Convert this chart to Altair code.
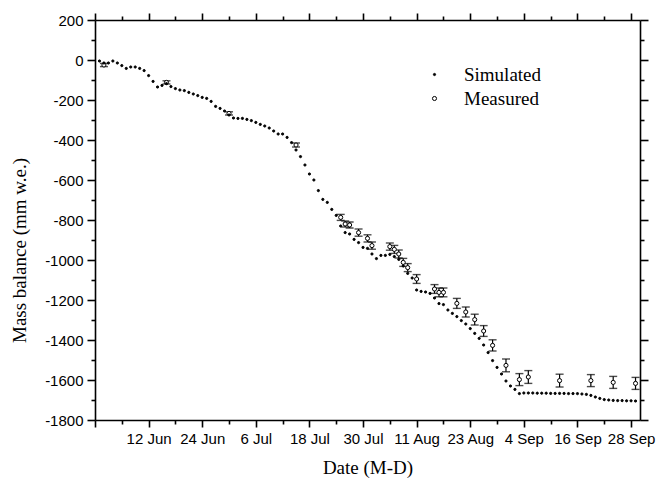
import altair as alt
import pandas as pd

# ---------------- data ----------------
sim_start = "2013-06-01"
sim_values = [
    # June
    -5, -15, -15, -5, -15, -28, -42, -35, -35, -42,
    -53, -78, -107, -135, -127, -118, -133, -143, -150, -153,
    -162, -170, -178, -187, -192, -207, -232, -242, -255, -275,
    # July
    -290, -292, -292, -297, -303, -312, -322, -330, -340, -355,
    -370, -370, -387, -413, -450, -483, -525, -570, -600, -653,
    -697, -712, -747, -777, -830, -863, -870, -897, -913, -937, -942,
    # August
    -970, -993, -977, -977, -972, -983, -997, -1030, -1067, -1090,
    -1150, -1157, -1160, -1167, -1190, -1218, -1223, -1250, -1267, -1283,
    -1303, -1320, -1343, -1367, -1392, -1425, -1463, -1503, -1537, -1570, -1605,
    # September
    -1630, -1647, -1668, -1665, -1665, -1665, -1666, -1666, -1666, -1667,
    -1667, -1667, -1667, -1668, -1668, -1668, -1670, -1672, -1677, -1685,
    -1692, -1698, -1700, -1702, -1703, -1703, -1704, -1704, -1705,
]

meas_dates = [
    "2013-06-02", "2013-06-16", "2013-06-30", "2013-07-15", "2013-07-25",
    "2013-07-26", "2013-07-27", "2013-07-29", "2013-07-31", "2013-08-01",
    "2013-08-05", "2013-08-06", "2013-08-07", "2013-08-08", "2013-08-09",
    "2013-08-11", "2013-08-15", "2013-08-16", "2013-08-17", "2013-08-20",
    "2013-08-22", "2013-08-24", "2013-08-26", "2013-08-28", "2013-08-31",
    "2013-09-03", "2013-09-05", "2013-09-12", "2013-09-19", "2013-09-24",
    "2013-09-29",
]
meas_values = [
    -25, -112, -267, -425, -787,
    -820, -825, -863, -892, -928,
    -933, -947, -970, -1012, -1038,
    -1095, -1145, -1162, -1162, -1217,
    -1260, -1298, -1355, -1427, -1527,
    -1598, -1585, -1603, -1603, -1612,
    -1617,
]
meas_errors = [
    8, 8, 8, 10, 15,
    15, 15, 18, 18, 18,
    18, 20, 20, 20, 20,
    22, 22, 22, 22, 25,
    25, 27, 27, 28, 32,
    30, 32, 32, 30, 30,
    30,
]

series_names = ["Simulated", "Measured"]
x_title = "Date (M-D)"
y_title = "Mass balance (mm w.e.)"

# ---------------- tables ----------------
base_date = pd.Timestamp("2013-06-12")
sim_dt = pd.date_range(sim_start, periods=len(sim_values), freq="D")
sim_df = pd.DataFrame({
    "day": (sim_dt - base_date).days,
    "value": sim_values,
    "series": series_names[0],
})
meas_dt = pd.to_datetime(meas_dates)
meas_df = pd.DataFrame({
    "day": (meas_dt - base_date).days,
    "value": meas_values,
    "lo": [v - e for v, e in zip(meas_values, meas_errors)],
    "hi": [v + e for v, e in zip(meas_values, meas_errors)],
    "series": series_names[1],
})
pts_df = pd.concat([sim_df, meas_df[["day", "value", "series"]]], ignore_index=True)

# ---------------- scales / axes ----------------
x_scale = alt.Scale(domain=[-12, 110], nice=False, zero=False)
y_scale = alt.Scale(domain=[-1800, 200], nice=False, zero=False)
x_ticks = list(range(-12, 109, 6))
y_ticks = list(range(-1800, 201, 100))

LABEL_FONT = "Liberation Sans"
TITLE_FONT = "Liberation Serif"

common_axis = dict(
    grid=False,
    domainColor="black",
    domainWidth=1.6,
    tickColor="black",
    tickWidth=1.6,
    labelColor="black",
    labelFont=LABEL_FONT,
    labelFontSize=15,
    titleColor="black",
    titleFont=TITLE_FONT,
    titleFontSize=19,
    titleFontWeight="normal",
)

x_label_expr = (
    "(datum.value % 12 === 0 && datum.value > -12) ? "
    "utcFormat(utc(2013, 5, 12 + datum.value), '%-d %b') : ''"
)
x_tick_size = {"condition": {"test": "datum.value % 12 === 0", "value": 7}, "value": 4}
y_tick_size = {"condition": {"test": "datum.value % 200 === 0", "value": 8}, "value": 4}

x_bottom = alt.Axis(orient="bottom", values=x_ticks, labelExpr=x_label_expr,
                    tickSize=x_tick_size, labelPadding=4, labelAngle=0,
                    title=x_title, titleY=38, titleBaseline="top",
                    labelFlush=False, labelOverlap=False, **common_axis)
x_top = alt.Axis(orient="top", values=x_ticks, labels=False, tickSize=x_tick_size,
                 title=None, **common_axis)
y_left = alt.Axis(orient="left", values=y_ticks,
                  labelExpr="datum.value % 200 === 0 ? '' + datum.value : ''",
                  tickSize=y_tick_size, labelPadding=4,
                  title=y_title, titleX=-76, titleY=230, titleBaseline="middle",
                  labelOverlap=False, labelFlush=False, **common_axis)
y_right = alt.Axis(orient="right", values=y_ticks, labels=False, tickSize=y_tick_size,
                   title=None, **common_axis)

# ---------------- layers ----------------
err_rule = alt.Chart(meas_df).mark_rule(color="black", strokeWidth=1.2).encode(
    x=alt.X("day:Q", scale=x_scale, axis=x_top),
    y=alt.Y("lo:Q", scale=y_scale, axis=y_right),
    y2="hi:Q",
)
cap_lo = alt.Chart(meas_df).mark_tick(color="black", size=8, thickness=1.4,
                                      orient="horizontal").encode(
    x=alt.X("day:Q", scale=x_scale, axis=None),
    y=alt.Y("lo:Q", scale=y_scale, axis=None),
)
cap_hi = alt.Chart(meas_df).mark_tick(color="black", size=8, thickness=1.4,
                                      orient="horizontal").encode(
    x=alt.X("day:Q", scale=x_scale, axis=None),
    y=alt.Y("hi:Q", scale=y_scale, axis=None),
)

legend = alt.Legend(
    title=None, orient="none", legendX=330, legendY=45,
    labelFont=TITLE_FONT, labelFontSize=19, labelColor="black",
    labelOffset=20, rowPadding=4, padding=0,
    symbolStrokeWidth=1, symbolType="circle",
)

points = alt.Chart(pts_df).mark_point(
    shape="circle", filled=True, strokeWidth=1,
    opacity=1, fillOpacity=1,
).encode(
    x=alt.X("day:Q", scale=x_scale, axis=x_bottom),
    y=alt.Y("value:Q", scale=y_scale, axis=y_left),
    fill=alt.Fill("series:N", scale=alt.Scale(domain=series_names, range=["black", "white"]),
                  legend=legend),
    stroke=alt.Stroke("series:N", scale=alt.Scale(domain=series_names, range=["black", "black"]),
                      legend=legend),
    size=alt.Size("series:N", scale=alt.Scale(type="ordinal", domain=series_names, range=[5, 17]),
                  legend=legend),
    order=alt.Order("series:N", sort="ascending"),
)

chart = alt.layer(err_rule, cap_lo, cap_hi, points).resolve_axis(
    x="independent", y="independent"
).properties(
    width=545, height=400,
    autosize=alt.AutoSizeParams(type="none"),
    padding={"left": 95, "top": 20, "right": 30, "bottom": 61},
).configure_view(stroke=None).configure(background="white")

chart.save("out.html", embed_options={"renderer": "svg", "actions": False})
